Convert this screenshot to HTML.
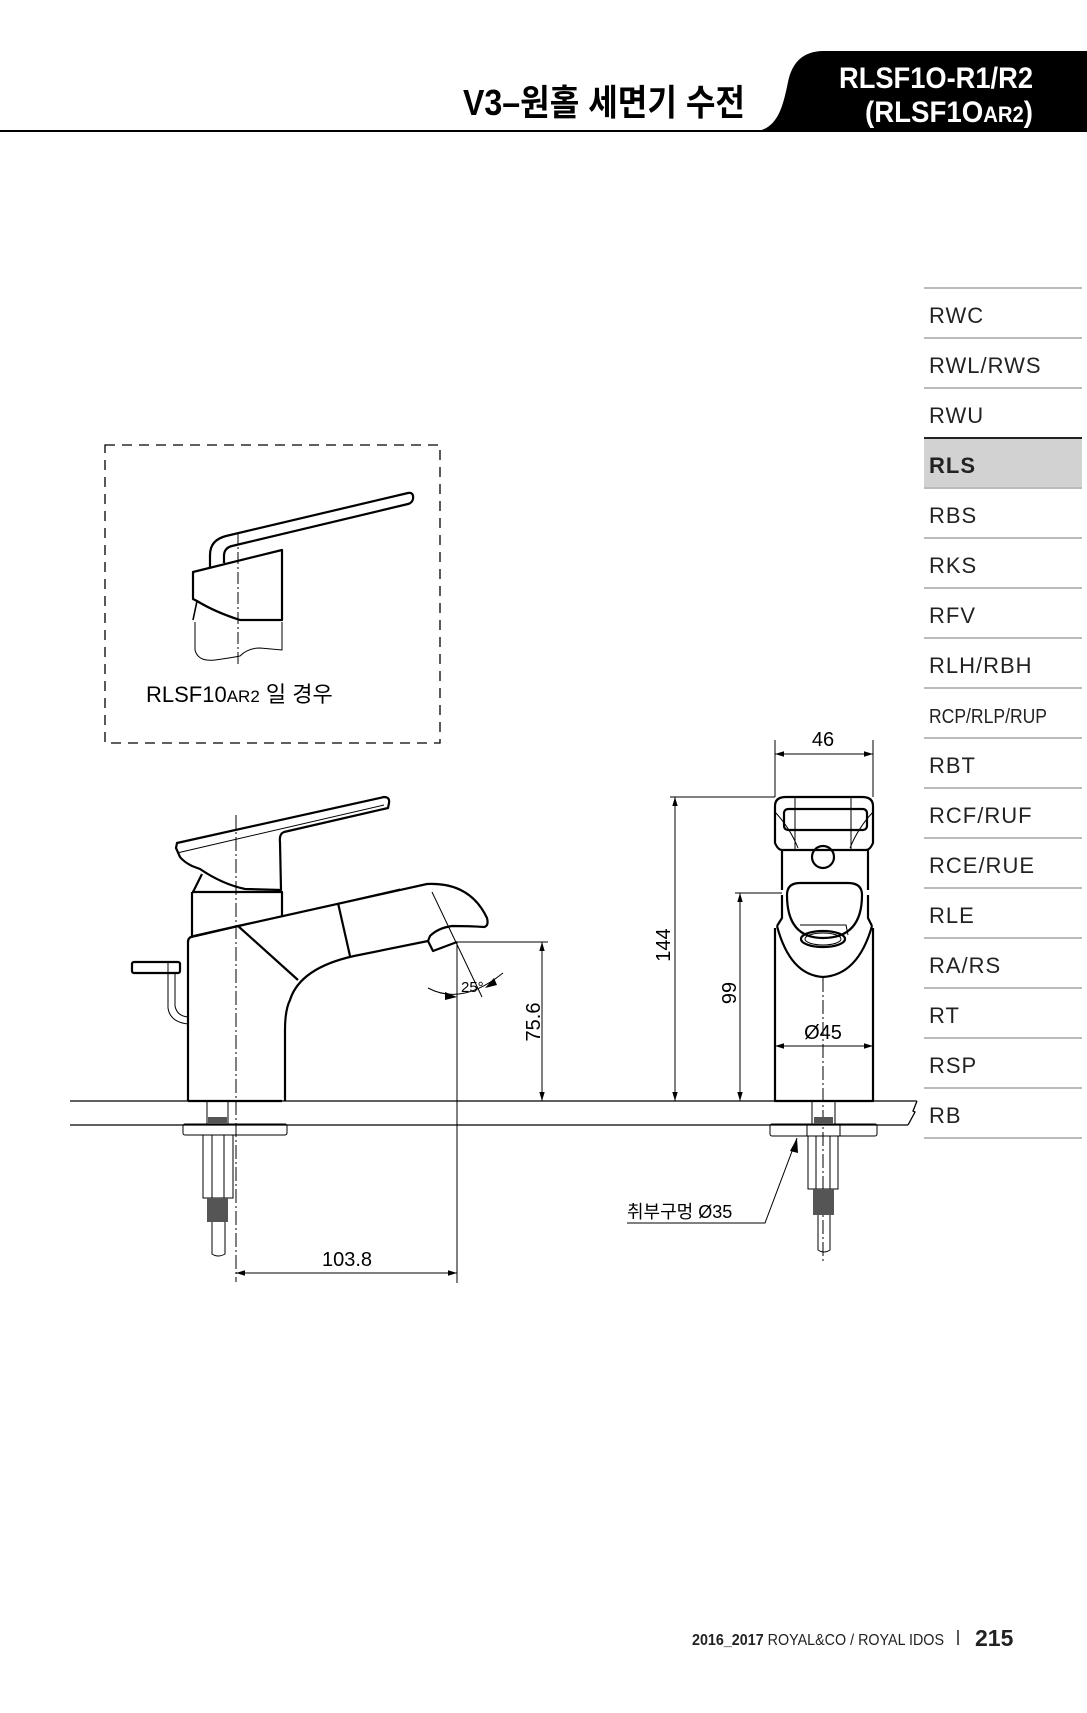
<!DOCTYPE html>
<html><head><meta charset="utf-8"><style>
html,body{margin:0;padding:0;background:#fff}
svg{display:block}
text{font-family:"Liberation Sans","Noto Sans CJK KR",sans-serif}
</style></head><body>
<svg width="1087" height="1713" viewBox="0 0 1087 1713" xmlns="http://www.w3.org/2000/svg">
<defs>
<marker id="ar" viewBox="0 0 10 10" refX="10" refY="5" markerWidth="9" markerHeight="9" orient="auto-start-reverse" markerUnits="userSpaceOnUse"><path d="M0,2 L10,5 L0,8 Z" fill="#000"/></marker>
</defs>
<!-- header -->
<line x1="0" y1="131" x2="790" y2="131" stroke="#000" stroke-width="2"/>
<path d="M752,132 C776,130 782,112 788,82 Q794,52 822,51 L1087,51 L1087,132 Z" fill="#000"/>
<text x="745" y="115" font-size="36" text-anchor="end" textLength="282" lengthAdjust="spacingAndGlyphs" font-weight="bold" font-family="Liberation Sans, Noto Sans CJK KR, sans-serif">V3–원홀 세면기 수전</text>
<text x="1033" y="88" font-size="30" fill="#fff" font-weight="bold" text-anchor="end" textLength="194" lengthAdjust="spacingAndGlyphs">RLSF1O-R1/R2</text>
<text x="1033" y="122" font-size="30" fill="#fff" font-weight="bold" text-anchor="end" textLength="168" lengthAdjust="spacingAndGlyphs">(RLSF1O<tspan font-size="22">AR2</tspan>)</text>

<!-- sidebar -->
<rect x="924" y="438" width="158" height="50" fill="#d2d2d2"/>
<g stroke="#bbb" stroke-width="2">
<line x1="924" y1="288" x2="1082" y2="288"/><line x1="924" y1="338" x2="1082" y2="338"/><line x1="924" y1="388" x2="1082" y2="388"/>
<line x1="924" y1="488" x2="1082" y2="488"/><line x1="924" y1="538" x2="1082" y2="538"/><line x1="924" y1="588" x2="1082" y2="588"/>
<line x1="924" y1="638" x2="1082" y2="638"/><line x1="924" y1="688" x2="1082" y2="688"/><line x1="924" y1="738" x2="1082" y2="738"/>
<line x1="924" y1="788" x2="1082" y2="788"/><line x1="924" y1="838" x2="1082" y2="838"/><line x1="924" y1="888" x2="1082" y2="888"/>
<line x1="924" y1="938" x2="1082" y2="938"/><line x1="924" y1="988" x2="1082" y2="988"/><line x1="924" y1="1038" x2="1082" y2="1038"/>
<line x1="924" y1="1088" x2="1082" y2="1088"/><line x1="924" y1="1138" x2="1082" y2="1138"/>
</g>
<line x1="924" y1="438" x2="1082" y2="438" stroke="#222" stroke-width="2"/>
<g font-size="22" fill="#222" letter-spacing="1">
<text x="929" y="323">RWC</text><text x="929" y="373">RWL/RWS</text><text x="929" y="423">RWU</text>
<text x="929" y="473" font-weight="bold">RLS</text><text x="929" y="523">RBS</text><text x="929" y="573">RKS</text>
<text x="929" y="623">RFV</text><text x="929" y="673">RLH/RBH</text><text x="929" y="723" font-size="20" letter-spacing="0" textLength="118" lengthAdjust="spacingAndGlyphs">RCP/RLP/RUP</text>
<text x="929" y="773">RBT</text><text x="929" y="823">RCF/RUF</text><text x="929" y="873">RCE/RUE</text>
<text x="929" y="923">RLE</text><text x="929" y="973">RA/RS</text><text x="929" y="1023">RT</text>
<text x="929" y="1073">RSP</text><text x="929" y="1123">RB</text>
</g>

<!-- dashed inset box -->
<rect x="105" y="445" width="335" height="298" fill="none" stroke="#000" stroke-width="1.3" stroke-dasharray="10,7"/>
<g fill="none" stroke="#000" stroke-width="2.2" stroke-linejoin="round">
<path d="M210,567 L210,555 Q210,540 226,536 L408,493 Q414,492 413,499 Q412,503 408,504 L232,546 Q224,548 224,556 L224,563"/>
<path d="M193,572 L282,550 L282,620 L240,620 Q215,612 197,601 L193,599 Z"/>
<path d="M197,601 L193,620" stroke-width="1.6"/>
</g>
<g fill="none" stroke="#000" stroke-width="1">
<path d="M195,622 L195,650 Q198,662 215,660 Q230,658 240,656 Q248,648 260,648 L282,650 L282,622"/>
<line x1="238" y1="532" x2="238" y2="666" stroke-dasharray="12,3,2,3"/>
</g>
<text x="146" y="702" font-size="22">RLSF10<tspan font-size="17">AR2</tspan> 일 경우</text>

<!-- counter -->
<g stroke="#000" stroke-width="1.3" fill="none">
<line x1="70" y1="1101" x2="917" y2="1101"/>
<line x1="70" y1="1125" x2="908" y2="1125"/>
<path d="M917,1101 L913,1111 L915,1112 L908,1125"/>
</g>

<!-- LEFT VIEW -->
<g fill="none" stroke="#000" stroke-width="2.2" stroke-linejoin="round">
<path d="M177,843 L384,797 Q390,797 389,803 L388,808 L284,832 Q279,834 280,842 L281,890 L245,889 Q222,884 200,869 L192,866 Q184,862 180,857 L176,848 Z"/>
<path d="M202,874 L193,892"/>
<path d="M192,892 L282,892 L282,917"/>
<path d="M192,892 L192,938"/>
<path d="M188,1101 L188,942 Q188,937 194,936 L238,926 L427,884 Q470,882 487,918 Q489,926 484,927 Q470,926 452,926 Q438,928 430,936 L428,941 L354,956 Q300,968 290,1000 Q285,1010 285,1030 L285,1101"/>
<path d="M428,941 L433,951 L457,942"/>
<path d="M238,926 L298,980"/>
<path d="M338,903 L350,956"/>
<path d="M188,1101 L282,1101"/>
<rect x="132" y="962" width="48" height="11" rx="2"/>
</g>
<g fill="none" stroke="#000" stroke-width="1">
<path d="M194,937 L400,889"/>
<path d="M177,853 L384,805"/>
<line x1="168" y1="962" x2="168" y2="973"/>
<path d="M168,973 L168,1008 Q170,1022 188,1024 M175,973 L175,1006 Q177,1016 188,1017"/>
<line x1="432" y1="892" x2="482" y2="997"/>
<rect x="207" y="1101" width="21" height="23"/>
<rect x="183" y="1124" width="104" height="11" rx="2"/>
<rect x="203" y="1135" width="30" height="63"/>
<line x1="212" y1="1135" x2="212" y2="1198"/><line x1="224" y1="1135" x2="224" y2="1198"/>
<path d="M212,1222 L212,1254 Q218,1258 225,1254 L225,1222"/>
</g>
<rect x="207" y="1198" width="21" height="24" fill="#555"/>
<rect x="208" y="1117" width="19" height="7" fill="#555"/>
<g stroke="#000" stroke-width="1" fill="none">
<line x1="236" y1="815" x2="236" y2="1282" stroke-dasharray="14,3,2,3"/>
<line x1="457" y1="942" x2="457" y2="1283"/>
<line x1="457" y1="942" x2="548" y2="942"/>
<line x1="236" y1="1273" x2="457" y2="1273" marker-start="url(#ar)" marker-end="url(#ar)"/>
<line x1="542" y1="942" x2="542" y2="1101" marker-start="url(#ar)" marker-end="url(#ar)"/>
<path d="M428,988 Q462,1006 503,973"/>
</g>
<path d="M457,997 L445,992 L445,1000 Z" fill="#000"/>
<path d="M485,988 L494,978 L497,985 Z" fill="#000"/>
<text x="347" y="1266" font-size="20" text-anchor="middle">103.8</text>
<text transform="translate(540,1022) rotate(-90)" font-size="20" text-anchor="middle">75.6</text>
<text x="461" y="992" font-size="15">25°</text>

<!-- FRONT VIEW -->
<g fill="none" stroke="#000" stroke-width="2.2" stroke-linejoin="round">
<path d="M775,843 L775,806 Q775,797 786,797 L862,797 Q873,797 873,806 L873,843 Q870,850 866,850 L782,850 Q778,850 775,843 Z"/>
<rect x="784" y="809" width="83" height="21" rx="4"/>
<path d="M782,850 L782,890 M868,850 L868,890"/>
<circle cx="823" cy="857" r="11"/>
<path d="M787,895 Q787,883 800,883 L848,883 Q862,883 862,895 Q862,938 823,938 Q787,938 787,895 Z"/>
<path d="M782,895 L782,918 L777,926 M868,895 L868,918 L872,926"/>
<path d="M777,926 Q790,975 823,977 Q858,975 872,926"/>
<path d="M775,928 L775,1101 L873,1101 L873,928"/>
<ellipse cx="823" cy="939" rx="22" ry="8"/>
</g>
<g fill="none" stroke="#000" stroke-width="1">
<path d="M775,812 Q790,828 798,848 M873,812 Q858,828 850,848"/>
<line x1="795" y1="797" x2="795" y2="850"/><line x1="851" y1="797" x2="851" y2="850"/>
<path d="M800,925 L846,925 L848,935"/>
<ellipse cx="823" cy="939" rx="18" ry="6"/>
<line x1="823" y1="978" x2="823" y2="1262" stroke-dasharray="14,3,2,3"/>
<line x1="775" y1="740" x2="775" y2="797"/><line x1="873" y1="740" x2="873" y2="797"/>
<line x1="775" y1="754" x2="873" y2="754" marker-start="url(#ar)" marker-end="url(#ar)"/>
<line x1="670" y1="797" x2="775" y2="797"/>
<line x1="675" y1="797" x2="675" y2="1101" marker-start="url(#ar)" marker-end="url(#ar)"/>
<line x1="735" y1="893" x2="782" y2="893"/>
<line x1="740" y1="893" x2="740" y2="1101" marker-start="url(#ar)" marker-end="url(#ar)"/>
<line x1="775" y1="1046" x2="873" y2="1046" marker-start="url(#ar)" marker-end="url(#ar)"/>
<rect x="812" y="1101" width="23" height="23"/>
<rect x="770" y="1124" width="107" height="12" rx="2"/>
<rect x="807" y="1124" width="33" height="12"/>
<rect x="808" y="1136" width="30" height="53"/>
<line x1="816" y1="1136" x2="816" y2="1189"/><line x1="830" y1="1136" x2="830" y2="1189"/>
<path d="M818,1215 L818,1250 Q824,1254 830,1250 L830,1215"/>
<path d="M797,1138 L765,1223 L627,1223"/>
</g>
<rect x="813" y="1189" width="21" height="26" fill="#555"/>
<rect x="814" y="1117" width="19" height="7" fill="#555"/>
<path d="M797,1138 L790,1151 L798,1153 Z" fill="#000"/>
<text x="823" y="746" font-size="20" text-anchor="middle">46</text>
<text x="823" y="1039" font-size="20" text-anchor="middle">Ø45</text>
<text transform="translate(670,945) rotate(-90)" font-size="20" text-anchor="middle">144</text>
<text transform="translate(736,993) rotate(-90)" font-size="20" text-anchor="middle">99</text>
<text x="627" y="1218" font-size="18">취부구멍 Ø35</text>

<!-- footer -->
<text x="692" y="1645" font-size="16" fill="#222" textLength="252" lengthAdjust="spacingAndGlyphs"><tspan font-weight="bold">2016_2017</tspan> ROYAL&amp;CO / ROYAL IDOS</text>
<line x1="958" y1="1630" x2="958" y2="1645" stroke="#222" stroke-width="1.5"/>
<text x="975" y="1646" font-size="23" font-weight="bold" fill="#222">215</text>
</svg>
</body></html>
